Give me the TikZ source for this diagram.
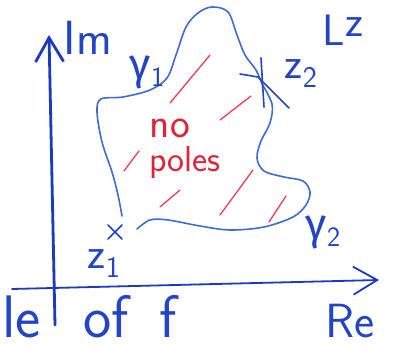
\documentclass[tikz,border=0pt]{standalone}
\usepackage{fontspec}
\newfontfamily\grk{Fira Sans}
\usetikzlibrary{arrows.meta}
\definecolor{axisblue}{RGB}{28,58,190}
\definecolor{curveblue}{RGB}{62,108,215}
\definecolor{textblue}{RGB}{35,68,200}
\definecolor{hatchred}{RGB}{238,60,90}
\definecolor{redtext}{RGB}{225,35,55}
\begin{document}
\begin{tikzpicture}[x=1pt,y=-1pt,
  axisline/.style={draw=axisblue, line cap=round, line join=round},
  curve/.style={draw=curveblue, line width=1.6pt, line cap=round, line join=round},
  hatch/.style={draw=hatchred, line width=1.3pt, line cap=round},
  crossmark/.style={draw=textblue, line width=1.6pt, line cap=round},
  lbl/.style={text=textblue, inner sep=0pt, font=\sffamily\fontsize{44}{48}\selectfont},
  redlbl/.style={text=redtext, inner sep=0pt},
  bigword/.style={lbl, anchor=base west, font=\sffamily\fontsize{60}{66}\selectfont},
  barb/.style={-{Straight Barb[length=24pt,width=28pt]}}]
\useasboundingbox (0,0) rectangle (394,347);

% axes
\coordinate (imlow) at (55,325);
\coordinate (imtip) at (49,35);
\coordinate (relow) at (12,289);
\coordinate (retip) at (379,280);
\draw[axisline, line width=2.8pt, barb] (imlow) -- (imtip);
\draw[axisline, line width=1.8pt, barb] (relow) -- (retip);

% points
\coordinate (z1) at (115,232);
\coordinate (z2) at (262,84);
\coordinate (g1start) at (122,216);
\coordinate (g2start) at (137,229);

% gamma_1 (upper boundary)
\draw[curve] plot[smooth, tension=0.55] coordinates {(g1start) (118,195) (112,172) (102,142) (97,112) (101,99) (123,97) (150,90) (167,78) (176,55) (186,27) (198,13) (212,7) (228,12) (237,35) (245,55) (256,70) (z2)};
% gamma_2 (lower boundary)
\draw[curve] plot[smooth, tension=0.55] coordinates {(g2start) (150,220) (168,220) (200,226) (230,230) (264,227) (293,217) (306,205) (310,192) (303,181) (284,177) (264,171) (257,158) (261,141) (270,123) (272,104) (z2)};

% crosses
\draw[crossmark] ([shift={(-7,-7)}]z1) -- ([shift={(7,7)}]z1);
\draw[crossmark] ([shift={(-7,7)}]z1) -- ([shift={(7,-7)}]z1);
\draw[crossmark] (240,74) -- (258,77) -- (289,108);
\draw[crossmark] (261,58) -- (264,107);

% hatching
\draw[hatch] (170,103) -- (210,55);
\draw[hatch] (220,120) -- (251,96);
\draw[hatch] (124,171) -- (139,151);
\draw[hatch] (160,207) -- (180,190);
\draw[hatch] (220,215) -- (253,170);
\draw[hatch] (269,222) -- (286,196);

% labels
\node[lbl, font=\sffamily\fontsize{48}{52}\selectfont] (im) at (88,38) {Im};
\node[lbl, font=\sffamily\fontsize{48}{52}\selectfont] (re) at (350,321) {Re};
\node[lbl] (lz) at (343,30) {L\raisebox{9pt}{z}};
\node[lbl] (z2lbl) at (301,74) {z\raisebox{-9pt}{\fontsize{30}{30}\selectfont 2}};
\node[lbl] (z1lbl) at (104,264) {z\raisebox{-9pt}{\fontsize{30}{30}\selectfont 1}};
\node[lbl] (g1) at (147,72) {{\grk γ}\raisebox{-7pt}{\fontsize{28}{28}\selectfont 1}};
\node[lbl] (g2) at (323,232) {{\grk γ}\raisebox{-7pt}{\fontsize{28}{28}\selectfont 2}};
\node[redlbl, font=\sffamily\fontsize{42}{46}\selectfont] (no) at (170,128) {no};
\node[redlbl, font=\sffamily\fontsize{36}{40}\selectfont] (poles) at (185,163) {poles};

% bottom text
\node[bigword] (w1) at (2,338) {le};
\node[bigword] (w2) at (83,338) {of};
\node[bigword] (w3) at (159,338) {f};
\end{tikzpicture}
\end{document}
